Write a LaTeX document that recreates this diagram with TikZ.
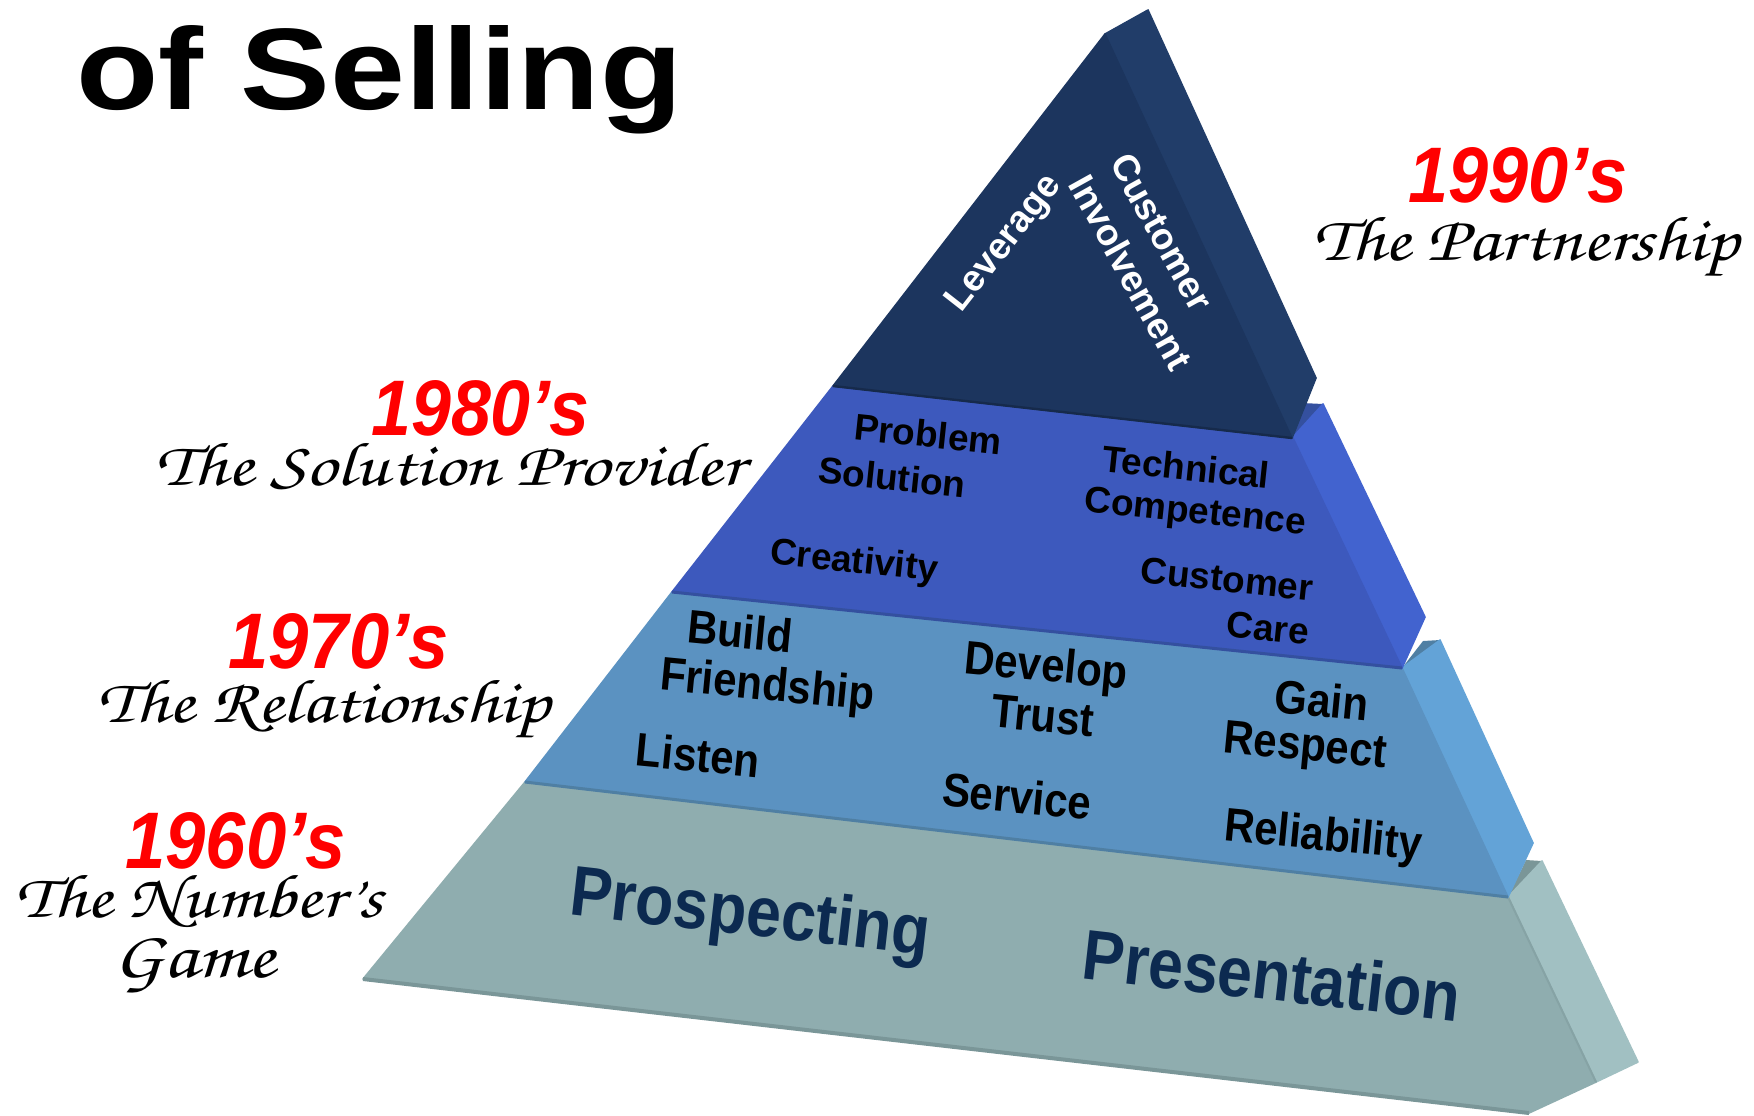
\documentclass[tikz,border=0pt]{standalone}
\usepackage{fontspec}
\usepackage{graphicx}
\setmainfont{Liberation Sans}
\newfontfamily\chorusfont{TeX Gyre Chorus}
\definecolor{tonef}{HTML}{1C355E}
\definecolor{tones}{HTML}{213D69}
\definecolor{ttwof}{HTML}{3D59BD}
\definecolor{ttwos}{HTML}{4263CF}
\definecolor{ttwot}{HTML}{34509F}
\definecolor{tthreef}{HTML}{5B92C1}
\definecolor{tthrees}{HTML}{63A3D7}
\definecolor{tthreet}{HTML}{4F7FA3}
\definecolor{tfourf}{HTML}{8FADAF}
\definecolor{tfours}{HTML}{A1C0C2}
\definecolor{tfourt}{HTML}{7A9698}
\definecolor{navytxt}{HTML}{0C2A50}
\begin{document}
\begin{tikzpicture}[x=0.5pt,y=-0.5pt,
  word/.style={inner sep=0pt, font=\bfseries\fontsize{18.5}{22}\selectfont},
  tonew/.style={word, text=white},
  ttwow/.style={word, rotate=-6},
  tthreew/.style={inner sep=0pt, rotate=-5.5, font=\bfseries\fontsize{21}{25}\selectfont},
  tfourw/.style={inner sep=0pt, rotate=-6.5, text=navytxt, font=\bfseries\fontsize{31}{36}\selectfont},
  year/.style={inner sep=0pt, anchor=base west, text=red, font=\bfseries\itshape\fontsize{38}{44}\selectfont},
  era/.style={inner sep=0pt, anchor=base west, font=\chorusfont\fontsize{30}{34}\selectfont},
  face/.style={line width=0.8pt, line join=round}
]
\useasboundingbox (0,0) rectangle (1754,1115);
\fill[white] (0,0) rectangle (1754,1115);

% ---- tier 4 (bottom)
\fill[tfourt] (1508,897) -- (1526,860) -- (1542,861) -- cycle;
\filldraw[face, fill=tfours, draw=tfours] (1508,897) -- (1542,861) -- (1638,1062) -- (1596,1082) -- cycle;
\filldraw[face, fill=tfourf, draw=tfourf] (525,782) -- (1508,897) -- (1596,1082) -- (1529,1113) -- (363,979) -- cycle;
\draw[tfourt, line width=2pt] (363,979) -- (1529,1113);
\draw[tfourt!70!tfours, line width=1pt] (1508,897) -- (1596,1082);

% ---- tier 3
\fill[tthreet] (1402,668) -- (1423,641) -- (1440,640) -- cycle;
\filldraw[face, fill=tthrees, draw=tthrees] (1402,668) -- (1440,640) -- (1533,843) -- (1508,897) -- cycle;
\filldraw[face, fill=tthreef, draw=tthreef] (672,592) -- (1402,668) -- (1508,897) -- (525,782) -- cycle;
\draw[tthreet, line width=1.5pt] (525,782) -- (1508,897);

% ---- tier 2
\fill[ttwot] (1293,437) -- (1302,403) -- (1323,404) -- cycle;
\filldraw[face, fill=ttwos, draw=ttwos] (1293,437) -- (1323,404) -- (1425,617) -- (1402,668) -- cycle;
\filldraw[face, fill=ttwof, draw=ttwof] (833,386) -- (1293,438) -- (1402,668) -- (672,592) -- cycle;
\draw[ttwot, line width=1.5pt] (672,592) -- (1402,668);

% ---- tier 1 (top)
\filldraw[face, fill=tones, draw=tones] (1105,34) -- (1148,10) -- (1316,378) -- (1292,438) -- cycle;
\filldraw[face, fill=tonef, draw=tonef] (1105,34) -- (1292,438) -- (833,386) -- cycle;
\draw[tonef!80!black, line width=1.2pt] (833,386) -- (1292,438);

% ---- texts on the pyramid
\node[tonew, rotate=52] (lev) at (1005,244) {Leverage};
\node[tonew, rotate=-61] (cust1) at (1162,232) {Customer};
\node[tonew, rotate=-61] (invol) at (1131,272) {Involvement};

\node[ttwow] (prob) at (928,434) {Problem};
\node[ttwow] (solu) at (892,477) {Solution};
\node[ttwow] (tech) at (1186,467) {Technical};
\node[ttwow] (comp) at (1195,514) {Competence};
\node[ttwow] (crea) at (854,563) {Creativity};
\node[ttwow] (cust2) at (1227,579) {Customer};
\node[ttwow] (care) at (1268,628) {Care};

\node[tthreew] (build) at (740,631) {\scalebox{1}[1.12]{Build}};
\node[tthreew] (friend) at (767,688) {\scalebox{1}[1.12]{Friendship}};
\node[tthreew] (listen) at (698,755) {\scalebox{1}[1.12]{Listen}};
\node[tthreew] (devel) at (1046,669) {\scalebox{1}[1.12]{Develop}};
\node[tthreew] (trust) at (1043,716) {\scalebox{1}[1.12]{Trust}};
\node[tthreew] (serv) at (1017,796) {\scalebox{1}[1.12]{Service}};
\node[tthreew] (gain) at (1322,700) {\scalebox{1}[1.12]{Gain}};
\node[tthreew] (resp) at (1305,749) {\scalebox{1}[1.12]{Respect}};
\node[tthreew] (relia) at (1323,838) {\scalebox{1}[1.12]{Reliability}};

\node[tfourw] (prosp) at (750,917) {\scalebox{1.01}[1.14]{Prospecting}};
\node[tfourw] (pres) at (1272,975) {\scalebox{1.01}[1.14]{Presentation}};

% ---- title
\node[inner sep=0pt, anchor=base west, font=\bfseries\fontsize{58}{64}\selectfont] (title) at (76,109) {\resizebox{303pt}{42pt}{of Selling}};

% ---- era labels
\node[year] (y90) at (1408,202) {\resizebox{109.5pt}{27.5pt}{1990’s}};
\node[era] (e90) at (1313,260) {\resizebox{212.5pt}{21.5pt}{The Partnership}};
\node[year] (y80) at (371,435) {\resizebox{109pt}{27.5pt}{1980’s}};
\node[era] (e80) at (155,485) {\resizebox{294.5pt}{21pt}{The Solution Provider}};
\node[year] (y70) at (228,668) {\resizebox{110pt}{27.5pt}{1970’s}};
\node[era] (e70) at (97,722) {\resizebox{226.5pt}{21pt}{The Relationship}};
\node[year] (y60) at (125,868) {\resizebox{110pt}{28pt}{1960’s}};
\node[era] (e60a) at (15,917) {\resizebox{183.5pt}{21pt}{The Number’s}};
\node[era] (e60b) at (113,977) {\resizebox{81pt}{19.5pt}{Game}};
\end{tikzpicture}
\end{document}
